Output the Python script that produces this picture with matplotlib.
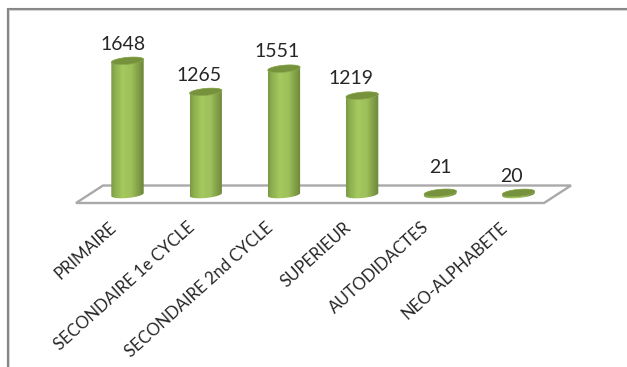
import numpy as np
import matplotlib
matplotlib.use("Agg")
import matplotlib.pyplot as plt
from matplotlib.patches import Polygon, PathPatch
from matplotlib.path import Path
from matplotlib.colors import LinearSegmentedColormap
from matplotlib.transforms import ScaledTranslation

categories = ["PRIMAIRE", "SECONDAIRE 1e CYCLE", "SECONDAIRE 2nd CYCLE",
              "SUPERIEUR", "AUTODIDACTES", "NEO-ALPHABETE"]
values = [1648, 1265, 1551, 1219, 21, 20]
label_offsets = [(-3, 5.5), (-5, 5.5), (-5, 6), (-8, 6.5), (0, 12), (-5, 5.5)]

W, H = 627, 367
plt.rcParams["font.family"] = ["Lato", "Open Sans", "DejaVu Sans"]
fig = plt.figure(figsize=(W / 100, H / 100), dpi=100, facecolor="white")

# background layer in pixel coordinates: frame and floor
bg = fig.add_axes([0, 0, 1, 1], zorder=0)
bg.set_xlim(0, W); bg.set_ylim(H, 0); bg.axis("off")
bg.plot([7.5, W], [8.7, 8.7], color="#868686", lw=1.5, solid_capstyle="butt")
bg.plot([7.5, W], [10.2, 10.2], color="#d4d4d4", lw=0.8)
bg.plot([8, 8], [8, H], color="#868686", lw=1.6, solid_capstyle="butt")
bg.plot([9.4, 9.4], [10, H], color="#d4d4d4", lw=0.6)
bg.add_patch(Polygon([(76, 203), (103, 185.5), (571, 185.5), (544, 203)], closed=True,
                     facecolor="white", edgecolor="#a9a9a9", lw=1.7, joinstyle="miter"))

# data layer
L, R, T, B = 50, 600, 20, 215
ax = fig.add_axes([L / W, 1 - B / H, (R - L) / W, (B - T) / H], zorder=1)
ax.patch.set_alpha(0)
px_x, x0 = 78.2, 127.5
px_v, y0 = 0.0811, 194.5
ax.set_xlim((L - x0) / px_x, (R - x0) / px_x)
ax.set_ylim((y0 - B) / px_v, (y0 - T) / px_v)
for s in ax.spines.values():
    s.set_visible(False)
ax.set_yticks([])
ax.set_xticks(range(len(categories)))
ax.set_xticklabels(categories, rotation=42, ha="right", va="top", rotation_mode="anchor",
                   fontsize=12.1, color="#262626")
ax.tick_params(axis="x", length=0, pad=3)
shift = ScaledTranslation(-19 / 100, 0, fig.dpi_scale_trans)
for lab in ax.get_xticklabels():
    lab.set_transform(lab.get_transform() + shift)

a = 16.2 / px_x      # half width, x units
b = 3.5 / px_v       # half height, value units
cmap = LinearSegmentedColormap.from_list("g", [(0, "#7c9a45"), (0.12, "#8fb04f"), (0.35, "#a5c85f"),
                                                (0.62, "#9fc05a"), (0.85, "#7f9d46"), (1, "#6b8739")])

def rim(cx, v, t):
    dx = np.cos(t)
    return cx + a * dx, v + b * np.sin(t) + 0.09 * 16.2 / px_v * dx

for i, v in enumerate(values):
    t_bot = np.linspace(np.pi, 2 * np.pi, 40)
    t_top = np.linspace(0, np.pi, 40)
    xb, yb = rim(i, 0, t_bot)
    xt, yt = rim(i, v, t_top)
    body = Path(np.column_stack([np.r_[xb, xt], np.r_[yb, yt]]))
    im = ax.imshow(np.linspace(0, 1, 64)[None, :], cmap=cmap, aspect="auto",
                   extent=(i - a, i + a, -b * 2.5, v + b * 2.5), zorder=2, interpolation="bilinear")
    im.set_clip_path(PathPatch(body, transform=ax.transData))
    t = np.linspace(0, 2 * np.pi, 80)
    xe, ye = rim(i, v, t)
    ax.add_patch(Polygon(np.column_stack([xe, ye]), closed=True, facecolor="#76923c",
                         edgecolor="#8aa84f", lw=0.5, zorder=3))
    ax.annotate(str(v), (i, v), xytext=label_offsets[i], textcoords="offset points",
                ha="center", va="bottom", fontsize=14, color="#262626", zorder=4,
                annotation_clip=False)

ax.set_xlim((L - x0) / px_x, (R - x0) / px_x)
ax.set_ylim((y0 - B) / px_v, (y0 - T) / px_v)
fig.savefig("out.png", dpi=100)
